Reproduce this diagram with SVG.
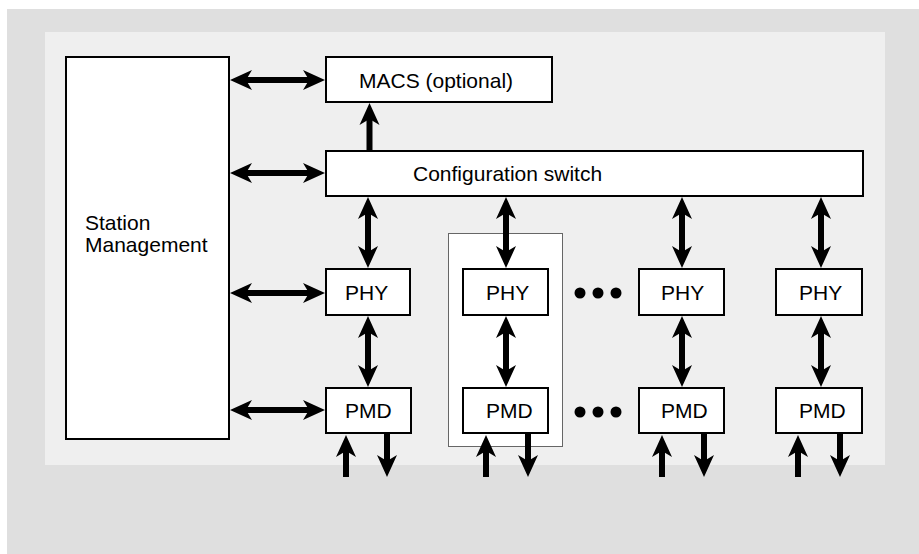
<svg xmlns="http://www.w3.org/2000/svg" width="919" height="554" viewBox="0 0 919 554">
<style>
.box{fill:#fff;stroke:#000;stroke-width:2}
.t{font-family:"Liberation Sans",Arial,sans-serif;font-size:21px;fill:#000}
.c{stroke:#000;stroke-width:6;fill:none}
.ar{marker-end:url(#ah)}
.dbl{marker-start:url(#ah);marker-end:url(#ah)}
</style>
<defs>
<marker id="ah" markerUnits="userSpaceOnUse" markerWidth="22" markerHeight="20" refX="6" refY="10" orient="auto-start-reverse" overflow="visible">
<path d="M0,0 L22,10 L0,20 L6,10 Z" fill="#000"/>
</marker>
</defs>
<rect x="0" y="0" width="919" height="554" fill="#fff"/>
<rect x="7" y="9" width="912" height="545" fill="#dfdfdf"/>
<rect x="45" y="32" width="840" height="433" fill="#efefef"/>
<rect id="group-frame" x="448.5" y="233.5" width="114" height="213" fill="#fff" stroke="#666" stroke-width="1"/>

<g id="connectors">
<line class="c dbl" x1="246" y1="80" x2="309" y2="80"/>
<line class="c dbl" x1="246" y1="173" x2="309" y2="173"/>
<line class="c dbl" x1="246" y1="293" x2="309" y2="293"/>
<line class="c dbl" x1="246" y1="410" x2="309" y2="410"/>
<line class="c ar" x1="369.5" y1="151" x2="369.5" y2="119"/>
<line class="c dbl" x1="368" y1="213" x2="368" y2="252"/>
<line class="c dbl" x1="506" y1="213" x2="506" y2="252"/>
<line class="c dbl" x1="682" y1="213" x2="682" y2="252"/>
<line class="c dbl" x1="821" y1="213" x2="821" y2="252"/>
<line class="c dbl" x1="368" y1="332" x2="368" y2="371"/>
<line class="c dbl" x1="506" y1="332" x2="506" y2="371"/>
<line class="c dbl" x1="682" y1="332" x2="682" y2="371"/>
<line class="c dbl" x1="821" y1="332" x2="821" y2="371"/>
<line class="c ar" x1="346" y1="477" x2="346" y2="451"/>
<line class="c ar" x1="387" y1="433" x2="387" y2="461"/>
<line class="c ar" x1="486" y1="477" x2="486" y2="451"/>
<line class="c ar" x1="528" y1="433" x2="528" y2="461"/>
<line class="c ar" x1="662" y1="477" x2="662" y2="451"/>
<line class="c ar" x1="704" y1="433" x2="704" y2="461"/>
<line class="c ar" x1="798" y1="477" x2="798" y2="451"/>
<line class="c ar" x1="840" y1="433" x2="840" y2="461"/>
</g>

<g id="station-management">
<rect class="box" x="66" y="57" width="163" height="382"/>
<text class="t" x="85" y="230"><tspan x="85" y="230">Station</tspan><tspan x="85" y="252">Management</tspan></text>
</g>
<g id="macs">
<rect class="box" x="326" y="57" width="226" height="45"/>
<text class="t" x="359" y="88">MACS (optional)</text>
</g>
<g id="config-switch">
<rect class="box" x="326" y="151" width="537" height="45"/>
<text class="t" x="413" y="181">Configuration switch</text>
</g>
<g id="phy1"><rect class="box" x="326" y="269" width="84" height="46"/><text class="t" x="345" y="300">PHY</text></g>
<g id="phy2"><rect class="box" x="463" y="269" width="85" height="46"/><text class="t" x="486" y="300">PHY</text></g>
<g id="phy3"><rect class="box" x="639" y="269" width="85" height="46"/><text class="t" x="661" y="300">PHY</text></g>
<g id="phy4"><rect class="box" x="776" y="269" width="86" height="46"/><text class="t" x="799" y="300">PHY</text></g>
<g id="pmd1"><rect class="box" x="326" y="388" width="85" height="45"/><text class="t" x="345" y="418">PMD</text></g>
<g id="pmd2"><rect class="box" x="463" y="388" width="85" height="45"/><text class="t" x="486" y="418">PMD</text></g>
<g id="pmd3"><rect class="box" x="639" y="388" width="85" height="45"/><text class="t" x="661" y="418">PMD</text></g>
<g id="pmd4"><rect class="box" x="776" y="388" width="86" height="45"/><text class="t" x="799" y="418">PMD</text></g>
<g id="ellipsis-phy" fill="#000"><circle cx="580" cy="293" r="5.5"/><circle cx="598" cy="293" r="5.5"/><circle cx="616" cy="293" r="5.5"/></g>
<g id="ellipsis-pmd" fill="#000"><circle cx="580" cy="412" r="5.5"/><circle cx="598" cy="412" r="5.5"/><circle cx="616" cy="412" r="5.5"/></g>
</svg>
